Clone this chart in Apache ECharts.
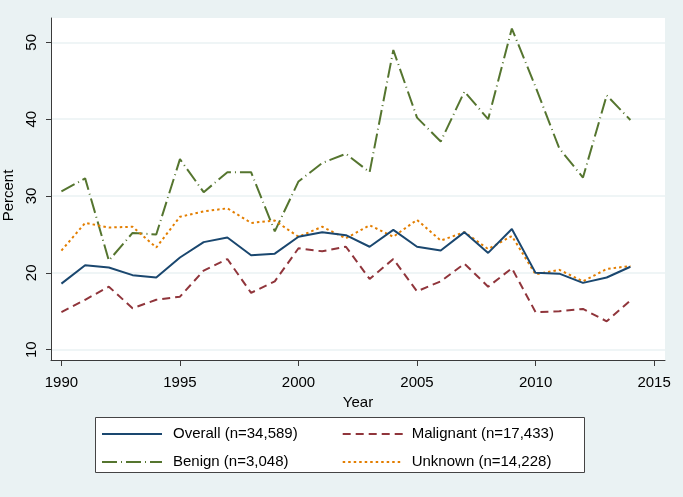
<!DOCTYPE html>
<html>
<head>
<meta charset="utf-8">
<script src="https://cdn.jsdelivr.net/npm/echarts@6/dist/echarts.min.js"></script>
<style>
html,body{margin:0;padding:0;background:#EAF2F3;}
#chart{width:683px;height:497px;}
</style>
</head>
<body>
<div id="chart"></div>
<script>
var years = [1990,1991,1992,1993,1994,1995,1996,1997,1998,1999,2000,2001,2002,2003,2004,2005,2006,2007,2008,2009,2010,2011,2012,2013,2014];
var overall   = [18.6,21.0,20.7,19.7,19.4,22.0,24.0,24.6,22.3,22.5,24.7,25.3,24.9,23.4,25.6,23.4,22.9,25.3,22.6,25.7,20.0,19.9,18.7,19.4,20.8];
var malignant = [14.9,16.5,18.2,15.4,16.5,16.9,20.3,21.8,17.4,18.9,23.2,22.8,23.4,19.2,21.8,17.6,18.9,21.2,18.2,20.6,14.9,15.0,15.3,13.7,16.4];
var benign    = [30.6,32.3,21.6,25.2,25.0,34.8,30.5,33.1,33.1,25.4,31.9,34.3,35.5,33.1,49.0,40.2,37.1,43.6,40.0,51.8,44.2,36.2,32.4,43.1,39.9];
var unknown   = [22.9,26.5,25.9,26.0,23.3,27.3,28.0,28.4,26.5,26.8,24.7,26.0,24.5,26.2,24.7,26.9,24.2,25.3,23.1,24.8,19.8,20.4,18.9,20.5,20.9];
var seriesNames = ['Overall (n=34,589)','Malignant (n=17,433)','Benign (n=3,048)','Unknown (n=14,228)'];
var xTicks = [1990,1995,2000,2005,2010,2015];
var yTicks = [10,20,30,40,50];

function pairs(vals){ return years.map(function(y,i){ return [y, vals[i]]; }); }

var FONT = "'Liberation Sans', Arial, sans-serif";
var chart = echarts.init(document.getElementById('chart'), null, {renderer:'canvas'});
var legendCommon = {orient: 'vertical', top: 425, padding: 0,
     itemWidth: 60, itemHeight: 14, itemGap: 10,
     itemStyle: {opacity: 0, borderWidth: 0}};
var option = {
  backgroundColor: '#EAF2F3',
  animation: false,
  textStyle: {fontFamily: FONT},
  grid: {left: 51, right: 18, top: 18, bottom: 137, show: true, backgroundColor: '#ffffff', borderWidth: 0,
         containLabel: false, outerBoundsMode: 'none'},
  xAxis: {
    type: 'value', min: 1989.56, max: 2015.46,
    name: 'Year', nameLocation: 'middle', nameGap: 28,
    nameTextStyle: {fontSize: 15, color: '#000', fontFamily: FONT},
    axisLine: {show: true, lineStyle: {color: '#3a3a3a', width: 1}},
    axisTick: {show: true, length: 6, lineStyle: {color: '#3a3a3a'}, customValues: xTicks},
    axisLabel: {fontSize: 15, color: '#000', margin: 15, fontFamily: FONT, customValues: xTicks,
                formatter: function(v){ return String(v); }},
    splitLine: {show: false}
  },
  yAxis: {
    type: 'value', min: 8.66, max: 53.17,
    name: 'Percent', nameLocation: 'middle', nameGap: 34,
    nameTextStyle: {fontSize: 15, color: '#000', fontFamily: FONT, padding: [0,13,0,0]},
    axisLine: {show: true, lineStyle: {color: '#3a3a3a', width: 1}},
    axisTick: {show: true, length: 5, lineStyle: {color: '#3a3a3a'}, customValues: yTicks},
    axisLabel: {fontSize: 15, color: '#000', rotate: 90, margin: 12, fontFamily: FONT, customValues: yTicks,
                formatter: function(v){ return String(v); }},
    splitLine: {show: true, lineStyle: {color: '#EAF2F3', width: 1.5}}
  },
  legend: [
    Object.assign({data: [seriesNames[0], seriesNames[2]], left: 101,
     textStyle: {fontSize: 15, color: '#000', lineHeight: 18, fontFamily: FONT, padding: [0,0,0,6]}}, legendCommon),
    Object.assign({data: [seriesNames[1], seriesNames[3]], left: 341.7,
     textStyle: {fontSize: 15, color: '#000', lineHeight: 18, fontFamily: FONT, padding: [0,0,0,4]}}, legendCommon)
  ],
  graphic: [
    {type: 'rect', left: 95, top: 417, z: -1, shape: {width: 489, height: 55},
     style: {fill: '#ffffff', stroke: '#444', lineWidth: 1}}
  ],
  series: [
    {name: seriesNames[0], type: 'line', data: pairs(overall), symbol: 'none', z: 4,
     lineStyle: {color: '#1a476f', width: 2, type: 'solid'}, itemStyle: {color: '#1a476f'}},
    {name: seriesNames[1], type: 'line', data: pairs(malignant), symbol: 'none', z: 3,
     lineStyle: {color: '#90353b', width: 2, type: [8,5]}, itemStyle: {color: '#90353b'}},
    {name: seriesNames[2], type: 'line', data: pairs(benign), symbol: 'none', z: 2,
     lineStyle: {color: '#55752f', width: 2, type: [15,4,1,4]}, itemStyle: {color: '#55752f'}},
    {name: seriesNames[3], type: 'line', data: pairs(unknown), symbol: 'none', z: 3,
     lineStyle: {color: '#e37e00', width: 2, type: [2.5,3]}, itemStyle: {color: '#e37e00'}}
  ]
};
chart.setOption(option);
</script>
</body>
</html>
